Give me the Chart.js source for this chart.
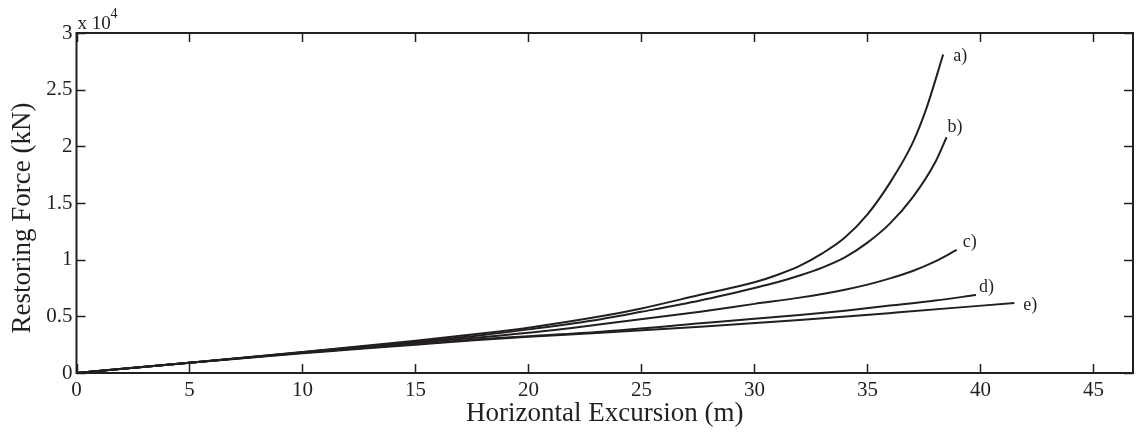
<!DOCTYPE html>
<html>
<head>
<meta charset="utf-8">
<script src="https://cdn.jsdelivr.net/npm/chart.js@4/dist/chart.umd.min.js"></script>
<style>
  html, body { margin: 0; padding: 0; background: #fff; }
  #wrap { width: 1137px; height: 432px; position: relative; }
</style>
</head>
<body>
<div id="wrap"><canvas id="chart"></canvas></div>
<script>
// Restoring force vs horizontal excursion, five mooring configurations

const xA = [0, 5, 10, 12, 15, 18, 20, 23.2, 25, 27.6, 30, 31, 32, 33, 34, 35, 36, 37, 37.6, 38.35];
const yA = [0, 900, 1850, 2250, 2850, 3500, 4000, 5000, 5700, 6900, 8000, 8650, 9450, 10550, 11950, 14000, 16800, 20300, 23300, 28100];

const xB = [0, 5, 10, 12, 15, 18, 20, 23.2, 25, 27.6, 30, 31, 32, 33, 34, 35, 36, 37, 38, 38.5];
const yB = [0, 900, 1830, 2200, 2750, 3350, 3850, 4750, 5400, 6400, 7500, 8000, 8600, 9300, 10200, 11500, 13200, 15500, 18600, 20800];

const xC = [0, 5, 10, 12, 15, 17.6, 20, 23.2, 27.6, 30, 32, 34, 35, 36, 37, 38, 38.95];
const yC = [0, 900, 1800, 2150, 2650, 3100, 3550, 4300, 5410, 6100, 6650, 7350, 7800, 8350, 9000, 9850, 10860];

const xD = [0, 5, 10, 12, 15, 17.6, 20, 23.2, 27.6, 30, 32, 34, 36, 38, 39.8];
const yD = [0, 900, 1780, 2100, 2550, 2950, 3250, 3650, 4380, 4780, 5120, 5500, 5950, 6400, 6880];

const xE = [0, 5, 10, 12, 15, 17.6, 20, 23.2, 27.6, 32, 34.2, 36.4, 41.5];
const yE = [0, 900, 1750, 2050, 2500, 2900, 3200, 3550, 4090, 4680, 5000, 5350, 6180];

const curveLabels = ['a)', 'b)', 'c)', 'd)', 'e)'];
const xTicks = [0, 5, 10, 15, 20, 25, 30, 35, 40, 45];
const yTicks = [0, 5000, 10000, 15000, 20000, 25000, 30000];

// label offsets from the curve end (px)
const labelOffset = [[10, 2], [1, -10], [6, -8], [3, -8], [9, 2]];

const FONT = '"Liberation Serif", "Times New Roman", serif';
const INK = '#231f20';

function pts(xs, ys) {
    return xs.map((x, i) => ({ x: x, y: ys[i] }));
}

const series = [pts(xA, yA), pts(xB, yB), pts(xC, yC), pts(xD, yD), pts(xE, yE)];

// box, inward ticks, titles, curve labels
const matlabAxes = {
    id: 'matlabAxes',
    afterDraw(chart) {
        const ctx = chart.ctx;
        const a = chart.chartArea;
        const xs = chart.scales.x;
        const ys = chart.scales.y;
        const tl = 9;
        ctx.save();
        ctx.strokeStyle = INK;
        ctx.lineWidth = 2;
        ctx.strokeRect(a.left, a.top, a.right - a.left, a.bottom - a.top);
        ctx.lineWidth = 1.5;
        ctx.beginPath();
        xTicks.forEach(v => {
            const px = Math.round(xs.getPixelForValue(v)) + 0.5;
            ctx.moveTo(px, a.bottom); ctx.lineTo(px, a.bottom - tl);
            ctx.moveTo(px, a.top); ctx.lineTo(px, a.top + tl);
        });
        yTicks.forEach(v => {
            const py = Math.round(ys.getPixelForValue(v)) + 0.5;
            ctx.moveTo(a.left, py); ctx.lineTo(a.left + tl, py);
            ctx.moveTo(a.right, py); ctx.lineTo(a.right - tl, py);
        });
        ctx.stroke();

        ctx.fillStyle = INK;
        // axis titles
        ctx.font = '27px ' + FONT;
        ctx.textAlign = 'center';
        ctx.textBaseline = 'middle';
        ctx.fillText('Horizontal Excursion (m)', (a.left + a.right) / 2, 414);
        ctx.save();
        ctx.translate(23, 218);
        ctx.rotate(-Math.PI / 2);
        ctx.fillText('Restoring Force (kN)', 0, 0);
        ctx.restore();

        // exponent
        ctx.textAlign = 'left';
        ctx.textBaseline = 'alphabetic';
        ctx.font = '19px ' + FONT;
        ctx.fillText('x 10', a.left + 1, a.top - 4);
        ctx.font = '14px ' + FONT;
        ctx.fillText('4', a.left + 34, a.top - 15);

        // curve labels
        ctx.font = '18px ' + FONT;
        ctx.textBaseline = 'middle';
        series.forEach((s, i) => {
            const last = s[s.length - 1];
            const px = xs.getPixelForValue(last.x) + labelOffset[i][0];
            const py = ys.getPixelForValue(last.y) + labelOffset[i][1];
            ctx.fillText(curveLabels[i], px, py);
        });
        ctx.restore();
    }
};

new Chart(document.getElementById('chart'), {
    type: 'line',
    data: {
        datasets: series.map((s, i) => ({
            label: curveLabels[i],
            data: s,
            borderColor: INK,
            borderWidth: 2,
            pointRadius: 0,
            fill: false,
            cubicInterpolationMode: 'monotone'
        }))
    },
    options: {
        responsive: true,
        maintainAspectRatio: false,
        animation: false,
        layout: { padding: { top: 33, right: 4, left: 0, bottom: 0 } },
        plugins: {
            legend: { display: false },
            tooltip: { enabled: false }
        },
        scales: {
            x: {
                type: 'linear',
                min: 0,
                max: 46.75,
                afterFit: scale => { scale.height = 59; },
                afterBuildTicks: scale => { scale.ticks = xTicks.map(v => ({ value: v })); },
                grid: { display: false, drawTicks: false },
                border: { display: false },
                ticks: {
                    color: INK,
                    padding: 5,
                    maxRotation: 0,
                    font: { family: FONT, size: 21 }
                }
            },
            y: {
                type: 'linear',
                min: 0,
                max: 30000,
                afterFit: scale => { scale.width = 76.5; },
                afterBuildTicks: scale => { scale.ticks = yTicks.map(v => ({ value: v })); },
                grid: { display: false, drawTicks: false },
                border: { display: false },
                ticks: {
                    color: INK,
                    padding: 4,
                    font: { family: FONT, size: 21 },
                    callback: v => String(v / 10000)
                }
            }
        }
    },
    plugins: [matlabAxes]
});
</script>
</body>
</html>
